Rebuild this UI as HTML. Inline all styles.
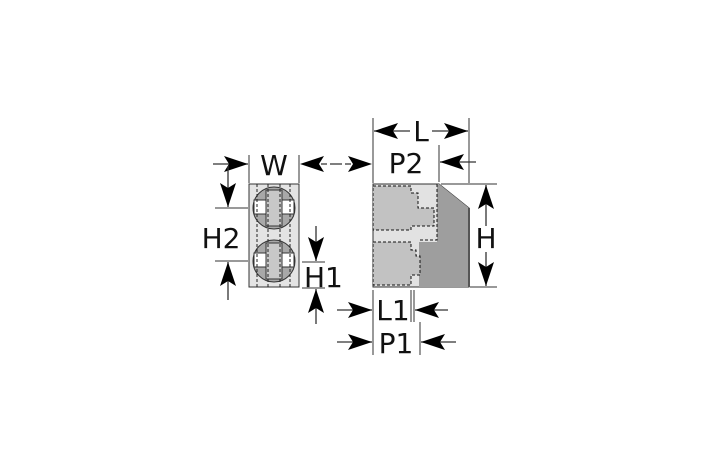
<!DOCTYPE html>
<html><head><meta charset="utf-8"><style>
html,body{margin:0;padding:0;background:#fff;width:709px;height:472px;overflow:hidden}
text{font-family:"DejaVu Sans","Liberation Sans",sans-serif;font-weight:normal;fill:#111}
</style></head><body>
<svg width="709" height="472" viewBox="0 0 709 472" xmlns="http://www.w3.org/2000/svg">
<defs>
<marker id="a" viewBox="0 0 24 16" refX="24" refY="8" markerWidth="24" markerHeight="16" markerUnits="userSpaceOnUse" orient="auto"><path d="M0,0 L24,8 L0,16 L5,8 Z" fill="#000"/></marker>
</defs>
<g stroke="#444" stroke-width="1">
<rect x="249" y="184" width="50" height="103" fill="#e4e4e4" stroke="#333"/>
<circle cx="274" cy="208" r="21" fill="#a8a8a8" stroke="#333"/>
<circle cx="274" cy="261" r="21" fill="#a8a8a8" stroke="#333"/>
<rect x="254" y="200" width="40" height="14" fill="#fff" stroke="#333"/>
<rect x="254" y="253" width="40" height="14" fill="#fff" stroke="#333"/>
<rect x="266" y="190" width="16" height="36" fill="#c8c8c8" stroke="#333"/>
<rect x="266" y="243" width="16" height="36" fill="#c8c8c8" stroke="#333"/>
<g stroke="#222" stroke-dasharray="3,2" fill="none">
<line x1="257" y1="184" x2="257" y2="287"/><line x1="268" y1="184" x2="268" y2="287"/>
<line x1="280" y1="184" x2="280" y2="287"/><line x1="290" y1="184" x2="290" y2="287"/>
</g>
<polygon points="373,184 439,184 469,208 469,287 373,287" fill="#e2e2e2" stroke="#333"/>
<polygon points="437,184 439,184 469,208 469,287 419,287 419,242 437,242" fill="#9e9e9e" stroke="none"/>
<line x1="469" y1="208" x2="469" y2="287" stroke="#555" stroke-width="2"/>
<polygon points="373,186 411,186 411,193 418,193 418,208 434,208 434,226 411,226 411,230 373,230" fill="#c2c2c2" stroke="#111" stroke-dasharray="3,2"/>
<polyline points="437,184 437,240 419,240" fill="none" stroke="#111" stroke-dasharray="3,2"/>
<polygon points="373,242 411,242 411,250 416,250 416,256 420,256 420,275 411,275 411,285 373,285" fill="#c2c2c2" stroke="#111" stroke-dasharray="3,2"/>
</g>
<g stroke="#333" stroke-width="1" fill="none">
<line x1="249" y1="155" x2="249" y2="183"/><line x1="299" y1="155" x2="299" y2="183"/>
<line x1="373" y1="118" x2="373" y2="183"/><line x1="469" y1="118" x2="469" y2="183"/>
<line x1="439" y1="145" x2="439" y2="182"/>
<line x1="441" y1="184" x2="497" y2="184"/><line x1="470" y1="287" x2="497" y2="287"/>
<line x1="215" y1="208" x2="248" y2="208"/><line x1="215" y1="261" x2="248" y2="261"/>
<line x1="302" y1="262" x2="325" y2="262"/><line x1="302" y1="288" x2="325" y2="288"/>
<line x1="373" y1="290" x2="373" y2="355"/><line x1="411" y1="290" x2="411" y2="322"/>
<line x1="414" y1="290" x2="414" y2="322"/><line x1="420" y1="322" x2="420" y2="355"/>
</g>
<g stroke="#333" stroke-width="1.3" fill="none" marker-end="url(#a)">
<line x1="213" y1="164" x2="248" y2="164"/><line x1="336" y1="164" x2="300" y2="164" stroke-dasharray="6,3"/>
<line x1="336" y1="164" x2="372" y2="164" stroke-dasharray="6,3"/>
<line x1="410" y1="131" x2="374" y2="131"/><line x1="432" y1="131" x2="468" y2="131"/>
<line x1="476" y1="162" x2="440" y2="162"/>
<line x1="486" y1="226" x2="486" y2="185"/><line x1="486" y1="252" x2="486" y2="286"/>
<line x1="228" y1="166" x2="228" y2="207"/><line x1="228" y1="300" x2="228" y2="262"/>
<line x1="316" y1="226" x2="316" y2="261"/><line x1="316" y1="324" x2="316" y2="289"/>
<line x1="337" y1="310" x2="372" y2="310"/><line x1="448" y1="310" x2="415" y2="310"/>
<line x1="337" y1="342" x2="372" y2="342"/><line x1="456" y1="342" x2="421" y2="342"/>
</g>
<g font-size="28">
<text x="274" y="175" text-anchor="middle">W</text>
<text x="421" y="141" text-anchor="middle">L</text>
<text x="406" y="173" text-anchor="middle">P2</text>
<text x="486" y="248" text-anchor="middle">H</text>
<text x="221" y="248" text-anchor="middle">H2</text>
<text x="304" y="287">H1</text>
<text x="393" y="320" text-anchor="middle">L1</text>
<text x="396" y="353" text-anchor="middle">P1</text>
</g>
</svg>
</body></html>
